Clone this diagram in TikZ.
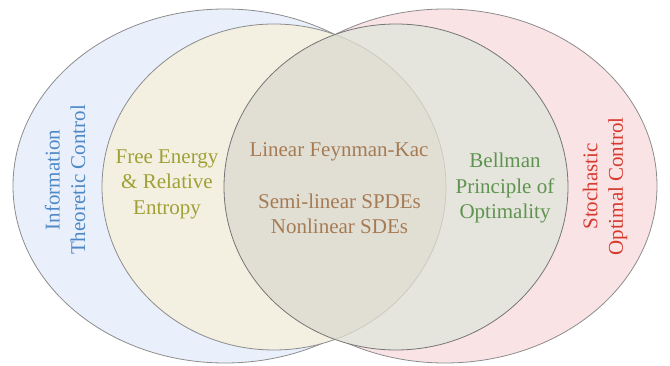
\documentclass[tikz,border=0pt]{standalone}
\usepackage{fontspec}
\setmainfont{Liberation Serif}
\definecolor{blueFill}{HTML}{E9F0FB}
\definecolor{pinkFill}{HTML}{FAE3E5}
\definecolor{yelFill}{HTML}{F3F0E2}
\definecolor{greyFill}{HTML}{E5E5DD}
\definecolor{midFill}{HTML}{E1DFD4}
\definecolor{edgeCol}{HTML}{8C8C8C}
\definecolor{edgeDarkCol}{HTML}{767676}
\definecolor{faintCol}{HTML}{C9C8BF}
\definecolor{txtBlue}{HTML}{4F88C6}
\definecolor{txtOlive}{HTML}{A0A035}
\definecolor{txtBrown}{HTML}{A67B54}
\definecolor{txtGreen}{HTML}{5F9450}
\definecolor{txtRed}{HTML}{D63A2E}
\begin{document}
\begin{tikzpicture}[x=1pt,y=-1pt,
  edge/.style={draw=edgeCol,line width=0.8pt},
  edgedark/.style={draw=edgeDarkCol,line width=0.8pt},
  faint/.style={draw=faintCol,line width=0.7pt},
  lbl/.style={align=center,inner sep=0pt,font=\fontsize{21}{25.5}\selectfont}]
\useasboundingbox (0,0) rectangle (670,366);
% outer ellipses
\fill[blueFill] (225,186) ellipse [x radius=212,y radius=177];
\draw[edge] (225,186) ellipse [x radius=212,y radius=177];
\fill[pinkFill] (445,186) ellipse [x radius=212,y radius=177];
\draw[edge] (445,186) ellipse [x radius=212,y radius=177];
% inner ellipses
\fill[yelFill] (274,187) ellipse [x radius=172,y radius=163];
\draw[edge] (274,187) ellipse [x radius=172,y radius=163];
\fill[greyFill] (396,187) ellipse [x radius=172,y radius=163];
\begin{scope}
  \clip (274,187) ellipse [x radius=172,y radius=163];
  \fill[midFill] (396,187) ellipse [x radius=172,y radius=163];
\end{scope}
\begin{scope}
  \clip (396,187) ellipse [x radius=172,y radius=163];
  \draw[faint] (274,187) ellipse [x radius=172,y radius=163];
\end{scope}
\draw[edgedark] (396,187) ellipse [x radius=172,y radius=163];
% labels
\node[lbl,text=txtBlue,rotate=90] (itc) at (65,180) {Information\\Theoretic Control};
\node[lbl,text=txtRed,rotate=90] (soc) at (605,186.5) {Stochastic\\Optimal Control};
\node[lbl,text=txtOlive] (fe) at (167,184) {Free Energy\\\& Relative\\Entropy};
\node[lbl,text=txtBrown] (fk) at (339,152) {Linear Feynman-Kac};
\node[lbl,text=txtBrown] (sp) at (339.5,214) {Semi-linear SPDEs\\Nonlinear SDEs};
\node[lbl,text=txtGreen] (bp) at (505,188) {Bellman\\Principle of\\Optimality};
\end{tikzpicture}
\end{document}
